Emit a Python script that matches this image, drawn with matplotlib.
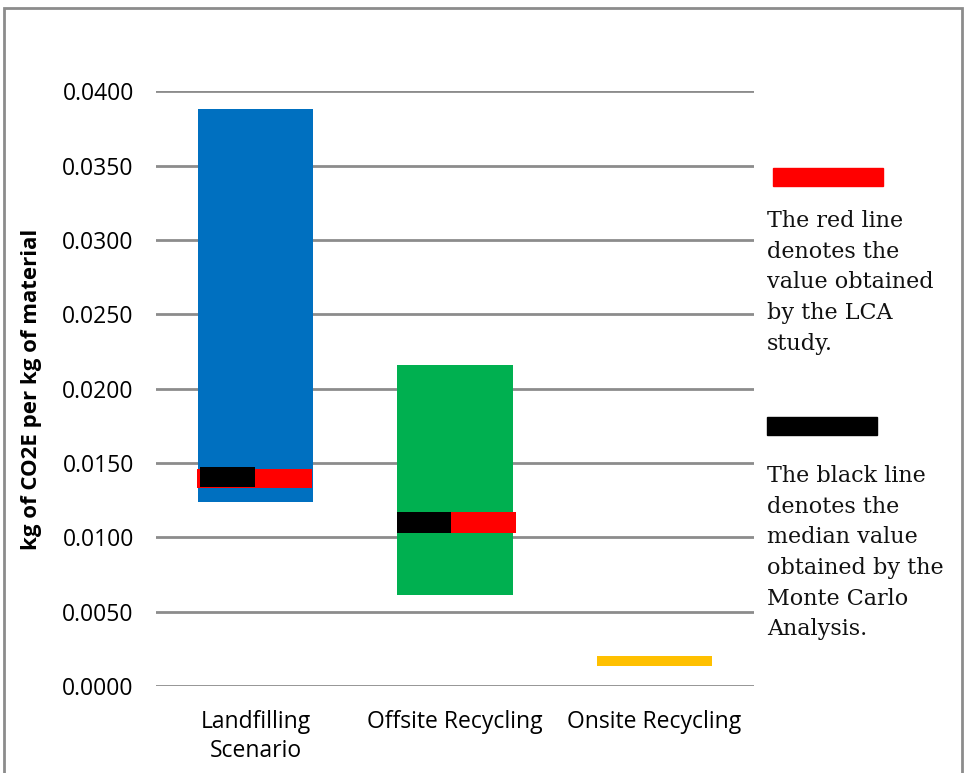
import matplotlib.pyplot as plt
from matplotlib.patches import Rectangle

categories = ["Landfilling\nScenario", "Offsite Recycling", "Onsite Recycling"]
range_low = [0.0124, 0.0061, 0.00135]
range_high = [0.0388, 0.0216, 0.00205]
range_colors = ["#0070C0", "#00B050", "#FFC000"]

# markers: LCA value (red) and Monte Carlo median (black)
lca_value = [0.01395, 0.0110]
median_value = [0.01405, 0.0110]
marker_cats = [0, 1]

yticks = [0.0, 0.005, 0.010, 0.015, 0.020, 0.025, 0.030, 0.035, 0.040]

fig = plt.figure(figsize=(9.65, 7.73), dpi=100)
ax = fig.add_axes([156 / 965, 87 / 773, 598 / 965, (686 - 91.4) / 773])

x = list(range(len(categories)))
bw = 0.577
for i in x:
    ax.bar(i, range_high[i] - range_low[i], bottom=range_low[i], width=bw,
           color=range_colors[i], zorder=2)

# red = LCA value, black = Monte Carlo median (drawn side by side)
for k, i in enumerate(marker_cats):
    if i == 0:
        mh = 0.0013
        ax.bar(i - 0.006, mh, bottom=lca_value[k] - mh / 2, width=0.578,
               color="#FF0000", zorder=3)
        ax.bar(i - 0.141, mh, bottom=median_value[k] - mh / 2, width=0.276,
               color="#000000", zorder=4)
    else:
        mh = 0.00145
        ax.bar(i + 0.143, mh, bottom=lca_value[k] - mh / 2, width=0.326,
               color="#FF0000", zorder=3)
        ax.bar(i - 0.156, mh, bottom=median_value[k] - mh / 2, width=0.271,
               color="#000000", zorder=4)

ax.set_xlim(-0.5, 2.5)
ax.set_ylim(0, 0.04)
ax.set_yticks(yticks)
ax.set_yticklabels([f"{v:.4f}" for v in yticks], fontsize=16.5, family="Open Sans")
ax.set_xticks(x)
ax.set_xticklabels(categories, fontsize=16.5, family="Open Sans", linespacing=1.3)
ax.tick_params(length=0, pad=16, axis="y")
ax.tick_params(length=0, pad=17, axis="x")
ax.grid(axis="y", color="#8C8C8C", linewidth=2, zorder=0)
ax.set_axisbelow(True)
for s in ax.spines.values():
    s.set_visible(False)

fig.text(32 / 965, 1 - 389 / 773, "kg of CO2E per kg of material", rotation=90,
         ha="center", va="center", fontsize=16, fontweight="bold",
         family="Open Sans")

# legend-like annotations on the right
fig.patches.append(Rectangle((773 / 965, 1 - 186 / 773), 110 / 965, 18 / 773,
                             transform=fig.transFigure, color="#FF0000"))
fig.patches.append(Rectangle((767 / 965, 1 - 435 / 773), 110 / 965, 18 / 773,
                             transform=fig.transFigure, color="#000000"))
fig.text(767 / 965, 1 - 210 / 773,
         "The red line\ndenotes the\nvalue obtained\nby the LCA\nstudy.",
         ha="left", va="top", fontsize=16, family="DejaVu Serif",
         linespacing=1.51, color="#111111")
fig.text(767 / 965, 1 - 465 / 773,
         "The black line\ndenotes the\nmedian value\nobtained by the\nMonte Carlo\nAnalysis.",
         ha="left", va="top", fontsize=16, family="DejaVu Serif",
         linespacing=1.51, color="#111111")

# outer frame
fig.patches.append(Rectangle((4 / 965, -0.05), 958 / 965, 1.05 - 8 / 773,
                             transform=fig.transFigure, fill=False,
                             edgecolor="#8C8C8C", linewidth=2))

fig.savefig("out.png", dpi=100)
